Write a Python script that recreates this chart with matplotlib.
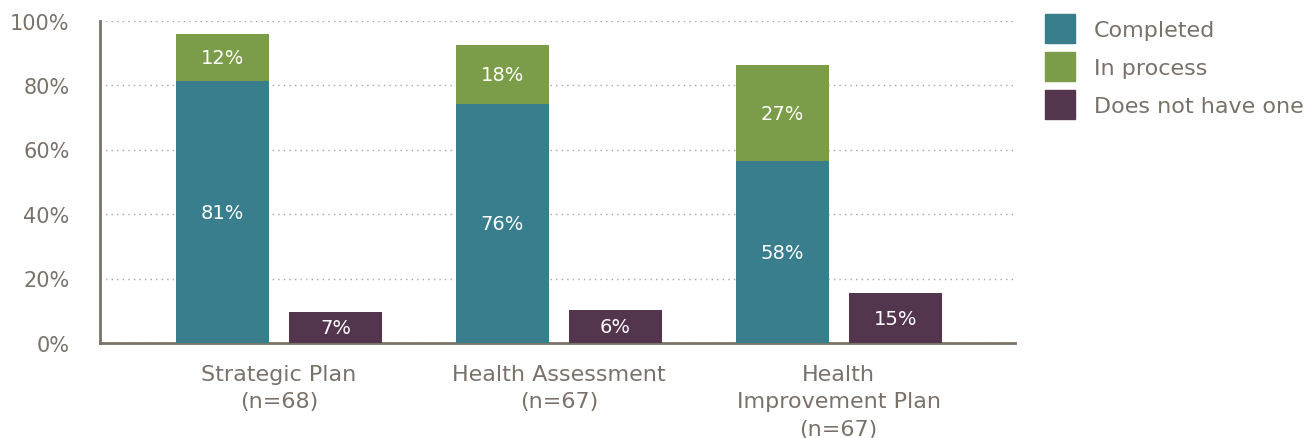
import matplotlib.pyplot as plt
import numpy as np
from matplotlib.patches import Patch

# values (bar heights in %, label text as printed)
categories = ["Strategic Plan\n(n=68)", "Health Assessment\n(n=67)", "Health\nImprovement Plan\n(n=67)"]
completed = [81.2, 74.1, 56.4]
in_process = [14.6, 18.3, 29.8]
no_plan = [9.6, 10.2, 15.5]
completed_labels = ["81%", "76%", "58%"]
in_process_labels = ["12%", "18%", "27%"]
no_plan_labels = ["7%", "6%", "15%"]
y_ticks = [0, 20, 40, 60, 80, 100]

TEAL = "#387e8c"
GREEN = "#7b9c48"
PURPLE = "#54354e"
AXIS_GRAY = "#7b7268"
TEXT_GRAY = "#7a7169"

plt.rcParams["font.family"] = ["DejaVu Sans"]

fig = plt.figure(figsize=(13.14, 4.39), dpi=100)
ax = fig.add_axes([100 / 1314, 95 / 439, 915 / 1314, 322.5 / 439])

x = np.arange(len(categories))
width = 0.332
offset = 0.202

ax.bar(x - offset, completed, width, color=TEAL, zorder=3)
ax.bar(x - offset, in_process, width, bottom=completed, color=GREEN, zorder=3)
ax.bar(x + offset, no_plan, width, color=PURPLE, zorder=3)

for i in range(len(x)):
    ax.text(x[i] - offset, completed[i] / 2, completed_labels[i], color="white",
            ha="center", va="center", fontsize=14, zorder=4)
    ax.text(x[i] - offset, completed[i] + in_process[i] / 2, in_process_labels[i],
            color="white", ha="center", va="center", fontsize=14, zorder=4)
    ax.text(x[i] + offset, no_plan[i] / 2, no_plan_labels[i], color="white",
            ha="center", va="center", fontsize=14, zorder=4)

ax.set_xlim(-0.64, 2.63)
ax.set_ylim(0, 100)
ax.set_yticks(y_ticks)
ax.set_yticklabels([f"{t}%" for t in y_ticks])
ax.set_xticks(x)
ax.set_xticklabels(categories, linespacing=1.46)

ax.grid(axis="y", linestyle=(0, (1, 3)), color="#aaa39b", linewidth=1, zorder=0)
ax.tick_params(axis="both", length=0, colors=TEXT_GRAY)
ax.tick_params(axis="y", pad=22, labelsize=15)
ax.tick_params(axis="x", pad=15, labelsize=16)

for side in ["top", "right"]:
    ax.spines[side].set_visible(False)
for side in ["left", "bottom"]:
    ax.spines[side].set_color(AXIS_GRAY)
    ax.spines[side].set_linewidth(2)

handles = [
    Patch(color=TEAL, label="Completed"),
    Patch(color=GREEN, label="In process"),
    Patch(color=PURPLE, label="Does not have one"),
]
fig.legend(handles=handles, loc="upper left", bbox_to_anchor=(1045 / 1314, 1 - 15 / 439),
           frameon=False, fontsize=16, handlelength=1.35, handleheight=1.63,
           handletextpad=0.86, labelspacing=0.4, labelcolor=TEXT_GRAY,
           borderpad=0, borderaxespad=0)

fig.savefig("out.png", dpi=100)
